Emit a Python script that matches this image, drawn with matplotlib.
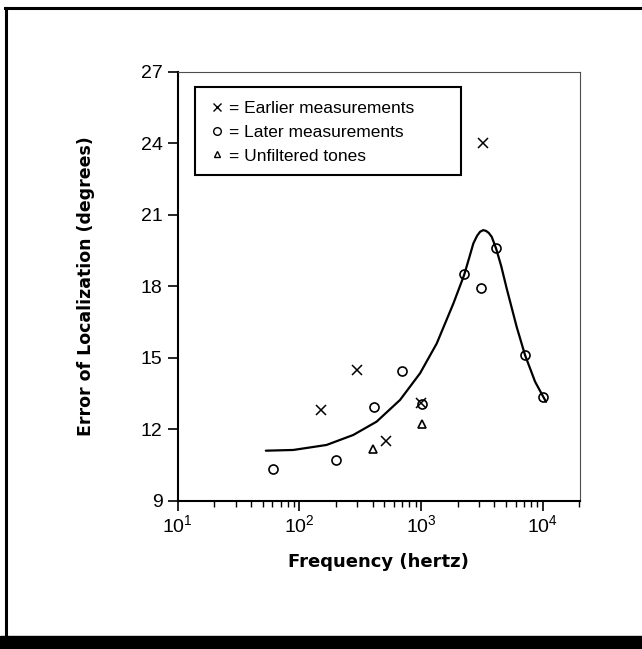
import numpy as np
import matplotlib.pyplot as plt
from matplotlib.lines import Line2D
from matplotlib.patches import Rectangle

earlier_f = [150, 300, 510, 1000, 3200]
earlier_err = [12.8, 14.5, 11.5, 13.1, 24.0]

later_f = [61, 200, 410, 700, 1010, 2250, 3100, 4100, 7100, 10000]
later_err = [10.35, 10.7, 12.95, 14.45, 13.05, 18.5, 17.95, 19.6, 15.1, 13.35]

unfiltered_f = [405, 1010]
unfiltered_err = [11.15, 12.2]

# hand-drawn fit curve, read point by point
curve_f = [53, 89, 167, 277, 431, 671, 980, 1343, 1841, 2254, 2500, 2685, 2880,
           3048, 3230, 3412, 3600, 3802, 4130, 4550, 5047, 6095, 7145, 8630, 10620]
curve_err = [11.10, 11.13, 11.34, 11.76, 12.32, 13.23, 14.35, 15.6, 17.28, 18.47,
             19.25, 19.80, 20.12, 20.29, 20.36, 20.33, 20.24, 20.08, 19.59, 18.85,
             17.91, 16.30, 15.11, 14.0, 13.15]

yticks = [9, 12, 15, 18, 21, 24, 27]
xticks = [10, 100, 1000, 10000]
xticklabels = [r'$10^1$', r'$10^2$', r'$10^3$', r'$10^4$']
legend_labels = ['= Earlier measurements', '= Later measurements', '= Unfiltered tones']

plt.rcParams['font.family'] = ['Liberation Sans', 'DejaVu Sans']
plt.rcParams['mathtext.fontset'] = 'custom'
plt.rcParams['mathtext.rm'] = 'Liberation Sans'
plt.rcParams['mathtext.it'] = 'Liberation Sans'

W, H = 642, 649
fig = plt.figure(figsize=(W / 100, H / 100), dpi=100)
ax = fig.add_axes([177.7 / W, 1 - 500.7 / H, (580 - 177.7) / W, (500.7 - 72) / H])

ax.plot(curve_f, curve_err, color='black', lw=1.6, solid_capstyle='round')
ax.plot(earlier_f, earlier_err, 'x', color='black', ms=6.5, mew=1.1)
ax.plot(later_f, later_err, 'o', mfc='none', mec='black', ms=6.5, mew=1.2)
ax.plot(unfiltered_f, unfiltered_err, '^', mfc='none', mec='black', ms=5.5, mew=1.2)

ax.set_xscale('log')
ax.set_xlim(10, 2.02e4)
ax.set_ylim(9, 27)
ax.set_yticks(yticks)
ax.set_xticks(xticks)
ax.set_xticklabels(xticklabels)
ax.tick_params(axis='both', which='major', direction='out', length=7, width=1.2,
               labelsize=14, color='black')
ax.tick_params(axis='x', which='minor', direction='out', length=4.5, width=1.0)
ax.tick_params(axis='y', pad=4)
ax.tick_params(axis='x', pad=3)

for s in ['left', 'bottom']:
    ax.spines[s].set_linewidth(1.5)
for s in ['top', 'right']:
    ax.spines[s].set_linewidth(0.8)
    ax.spines[s].set_color('0.3')

ax.set_xlabel('Frequency (hertz)', fontsize=13, fontweight='heavy',
              family='DejaVu Sans', labelpad=12)
ax.set_ylabel('Error of Localization (degrees)', fontsize=12.5, fontweight='heavy',
              family='DejaVu Sans', labelpad=33)

# legend: box drawn separately so its size can match the original
ax.add_patch(Rectangle((195 / W, 1 - 175 / H), (461 - 195) / W, (175 - 87) / H,
                       transform=fig.transFigure, fill=False, ec='black', lw=1.5,
                       zorder=5))
handles = [Line2D([], [], ls='none', marker='x', color='black', ms=5.5, mew=1),
           Line2D([], [], ls='none', marker='o', mfc='none', mec='black', ms=5.5, mew=1),
           Line2D([], [], ls='none', marker='^', mfc='none', mec='black', ms=5, mew=1)]
ax.legend(handles, legend_labels, loc='upper left', bbox_to_anchor=(203 / W, 1 - 92 / H),
          bbox_transform=fig.transFigure, frameon=False, fontsize=12.5,
          handlelength=0.6, handletextpad=0.4, labelspacing=0.5, borderpad=0)

# page frame: thin top/left border and thick black band at the bottom
fig.add_artist(Line2D([6 / W, 6 / W], [0, 1 - 8 / H], color='black', lw=2.2))
fig.add_artist(Line2D([5 / W, 1], [1 - 8 / H, 1 - 8 / H], color='black', lw=2.2))
fig.add_artist(Rectangle((0, 0), 1, 13 / H, transform=fig.transFigure,
                         color='black', zorder=10))

fig.savefig('out.png', dpi=100)
